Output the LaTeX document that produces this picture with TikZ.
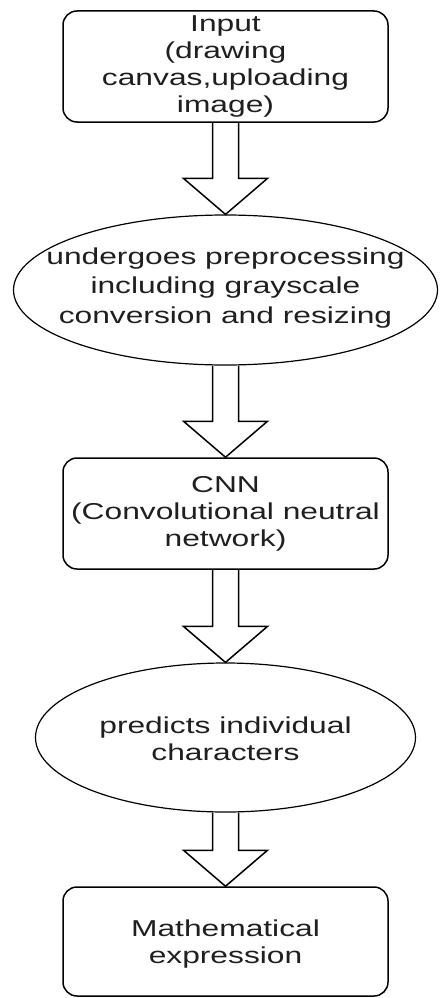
\documentclass[tikz,border=0pt]{standalone}
\usepackage{fontspec}
\newfontfamily\diagfont[FakeStretch=1.38]{Liberation Sans}
\usetikzlibrary{shapes.geometric,calc}
\begin{document}
\begin{tikzpicture}[x=1pt,y=1pt,
  txt/.style={font=\diagfont\fontsize{23}{27}\selectfont, align=center, text=black!88, inner sep=0pt},
  roundbox/.style={draw, line width=1.5pt, rounded corners=14pt, minimum width=325pt, inner sep=0pt},
  oval/.style={draw, ellipse, line width=1.2pt, inner sep=0pt},
  blockarrow/.style={draw, line width=1.5pt, line join=miter}
]
\useasboundingbox (0,0) rectangle (440,-998);

% nodes
\node[roundbox, minimum height=111pt] (b1) at (225.5,-66.5) {};
\node[txt] (b1t) at (b1) {Input\\(drawing\\canvas,uploading\\image)};

\node[oval, minimum width=424pt, minimum height=150pt] (e1) at (225.5,-290) {};
\node[txt, font=\diagfont\fontsize{23}{29.5}\selectfont] (e1t) at (225.5,-288) {undergoes preprocessing\\including grayscale\\conversion and resizing};

\node[roundbox, minimum height=111pt] (b2) at (225.5,-513.5) {};
\node[txt] (b2t) at (b2) {CNN\\(Convolutional neutral\\network)};

\node[oval, minimum width=380pt, minimum height=149pt] (e2) at (225.5,-737.5) {};
\node[txt] (e2t) at (225.5,-738.5) {predicts individual\\characters};

\node[roundbox, minimum height=109pt] (b3) at (225.5,-941.5) {};
\node[txt] (b3t) at (225.5,-944.5) {Mathematical\\expression};

% block arrows
\foreach \a/\b in {b1/e1, e1/b2, b2/e2, e2/b3}{
  \draw[blockarrow] ($(\a.south)+(-13,0)$) -- ($(\b.north)+(-13,36)$) -- ($(\b.north)+(-42,36)$)
    -- (\b.north) -- ($(\b.north)+(42,36)$) -- ($(\b.north)+(13,36)$) -- ($(\a.south)+(13,0)$);
}
\end{tikzpicture}
\end{document}
